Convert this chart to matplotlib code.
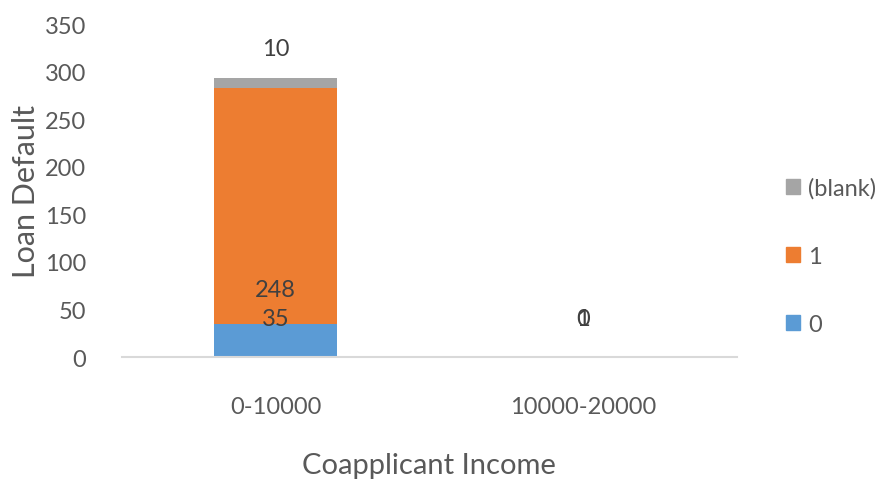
import matplotlib
matplotlib.use("Agg")
import matplotlib.pyplot as plt
from matplotlib.patches import Patch

categories = ["0-10000", "10000-20000"]
series_names = ["0", "1", "(blank)"]
vals_0 = [35, 0]
vals_1 = [248, 1]
vals_blank = [10, 0]
label_0 = ["35", "0"]
label_1 = ["248", "1"]
label_blank = ["10", ""]
colors = ["#5B9BD5", "#ED7D31", "#A5A5A5"]

plt.rcParams['font.family'] = ['Lato', 'DejaVu Sans']
txt = "#595959"

fig = plt.figure(figsize=(8.9, 4.81), dpi=100)
ax = fig.add_axes([0.137, 0.2557, 0.691, 0.6923])

x = list(range(len(categories)))
w = 0.4
ax.bar(x, vals_0, w, color=colors[0])
ax.bar(x, vals_1, w, bottom=vals_0, color=colors[1])
b2 = [a + b for a, b in zip(vals_0, vals_1)]
ax.bar(x, vals_blank, w, bottom=b2, color=colors[2])

fs = 17
for i in x:
    ax.text(i, 40, label_0[i], ha="center", va="center", fontsize=fs, color="#404040")
    ax.text(i, 40 if i == 1 else 71, label_1[i], ha="center", va="center", fontsize=fs, color="#404040")
    if label_blank[i]:
        ax.text(i, b2[i] + vals_blank[i] + 31, label_blank[i], ha="center", va="center", fontsize=fs, color="#404040")

ax.set_xlim(-0.5, 1.5)
ax.set_ylim(0, 350)
ax.set_yticks(range(0, 351, 50))
ax.set_xticks(x)
ax.set_xticklabels(categories)
for s in ["top", "right", "left"]:
    ax.spines[s].set_visible(False)
ax.spines["bottom"].set_color("#D9D9D9")
ax.spines["bottom"].set_linewidth(1.5)
ax.tick_params(axis="both", length=0, labelsize=fs, colors=txt)
ax.tick_params(axis="y", pad=26)
ax.tick_params(axis="x", pad=28)
ax.set_ylabel("Loan Default", fontsize=22, color=txt, labelpad=3)
ax.set_xlabel("Coapplicant Income", fontsize=21, color=txt, labelpad=25)

handles = [Patch(color=colors[2]), Patch(color=colors[1]), Patch(color=colors[0])]
leg = fig.legend(handles, ["(blank)", "1", "0"], loc="center left", bbox_to_anchor=(0.883, 0.466),
                 frameon=False, fontsize=fs, labelcolor=txt, handlelength=0.6, handleheight=0.6,
                 handletextpad=0.35, labelspacing=2.0, borderpad=0, borderaxespad=0)

fig.savefig("out.png", dpi=100)
